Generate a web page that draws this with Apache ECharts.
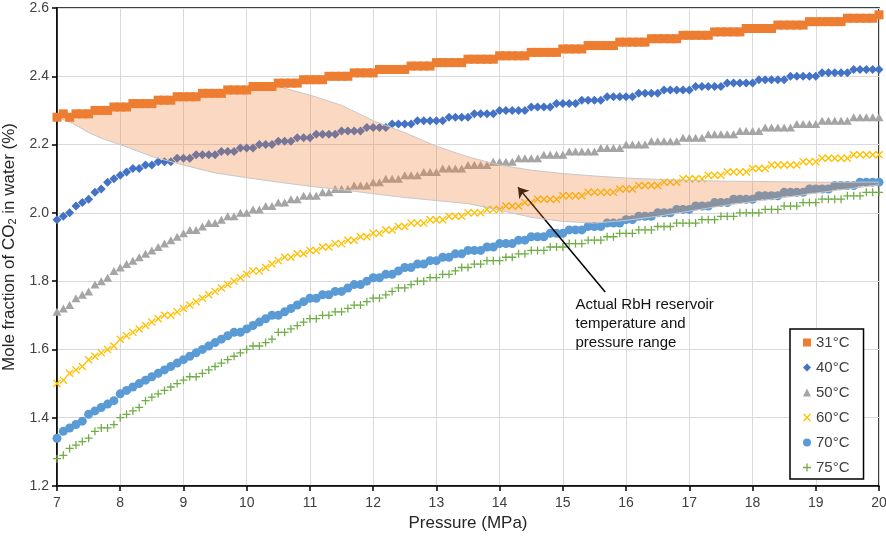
<!DOCTYPE html>
<html>
<head>
<meta charset="utf-8">
<script src="https://cdn.jsdelivr.net/npm/echarts@6/dist/echarts.min.js"></script>
<style>
html,body{margin:0;padding:0;background:#fff;}
#chart{width:886px;height:537px;}
</style>
</head>
<body>
<div id="chart"></div>
<script>
// Pressure (MPa)
const pressure = [
7.0,7.1,7.2,7.3,7.4,7.5,7.6,7.7,7.8,7.9,
8.0,8.1,8.2,8.3,8.4,8.5,8.6,8.7,8.8,8.9,
9.0,9.1,9.2,9.3,9.4,9.5,9.6,9.7,9.8,9.9,
10.0,10.1,10.2,10.3,10.4,10.5,10.6,10.7,10.8,10.9,
11.0,11.1,11.2,11.3,11.4,11.5,11.6,11.7,11.8,11.9,
12.0,12.1,12.2,12.3,12.4,12.5,12.6,12.7,12.8,12.9,
13.0,13.1,13.2,13.3,13.4,13.5,13.6,13.7,13.8,13.9,
14.0,14.1,14.2,14.3,14.4,14.5,14.6,14.7,14.8,14.9,
15.0,15.1,15.2,15.3,15.4,15.5,15.6,15.7,15.8,15.9,
16.0,16.1,16.2,16.3,16.4,16.5,16.6,16.7,16.8,16.9,
17.0,17.1,17.2,17.3,17.4,17.5,17.6,17.7,17.8,17.9,
18.0,18.1,18.2,18.3,18.4,18.5,18.6,18.7,18.8,18.9,
19.0,19.1,19.2,19.3,19.4,19.5,19.6,19.7,19.8,19.9,
20.0];

// Mole fraction of CO2 in water (%)
const t31 = [
2.28,2.29,2.28,2.29,2.29,2.29,2.30,2.30,2.30,2.31,
2.31,2.31,2.32,2.32,2.32,2.32,2.33,2.33,2.33,2.34,
2.34,2.34,2.34,2.35,2.35,2.35,2.35,2.36,2.36,2.36,
2.36,2.37,2.37,2.37,2.37,2.38,2.38,2.38,2.38,2.39,
2.39,2.39,2.39,2.40,2.40,2.40,2.40,2.41,2.41,2.41,
2.41,2.42,2.42,2.42,2.42,2.42,2.43,2.43,2.43,2.43,
2.44,2.44,2.44,2.44,2.44,2.45,2.45,2.45,2.45,2.45,
2.46,2.46,2.46,2.46,2.46,2.47,2.47,2.47,2.47,2.47,
2.48,2.48,2.48,2.48,2.49,2.49,2.49,2.49,2.49,2.50,
2.50,2.50,2.50,2.50,2.51,2.51,2.51,2.51,2.51,2.52,
2.52,2.52,2.52,2.52,2.53,2.53,2.53,2.53,2.53,2.54,
2.54,2.54,2.54,2.54,2.55,2.55,2.55,2.55,2.55,2.56,
2.56,2.56,2.56,2.56,2.56,2.57,2.57,2.57,2.57,2.57,
2.58];

const t40 = [
1.98,1.99,2.00,2.02,2.03,2.04,2.06,2.07,2.09,2.10,
2.11,2.12,2.13,2.13,2.14,2.14,2.15,2.15,2.15,2.16,
2.16,2.16,2.17,2.17,2.17,2.17,2.18,2.18,2.18,2.19,
2.19,2.19,2.20,2.20,2.20,2.21,2.21,2.21,2.22,2.22,
2.22,2.23,2.23,2.23,2.23,2.24,2.24,2.24,2.24,2.25,
2.25,2.25,2.25,2.26,2.26,2.26,2.26,2.27,2.27,2.27,
2.27,2.27,2.28,2.28,2.28,2.28,2.29,2.29,2.29,2.29,
2.30,2.30,2.30,2.30,2.30,2.31,2.31,2.31,2.31,2.32,
2.32,2.32,2.32,2.33,2.33,2.33,2.33,2.34,2.34,2.34,
2.34,2.34,2.35,2.35,2.35,2.35,2.36,2.36,2.36,2.36,
2.36,2.37,2.37,2.37,2.37,2.37,2.38,2.38,2.38,2.38,
2.38,2.39,2.39,2.39,2.39,2.39,2.40,2.40,2.40,2.40,
2.40,2.41,2.41,2.41,2.41,2.41,2.42,2.42,2.42,2.42,
2.42];

const t50 = [
1.71,1.72,1.73,1.75,1.76,1.77,1.79,1.80,1.81,1.83,
1.84,1.85,1.86,1.87,1.88,1.89,1.90,1.91,1.92,1.93,
1.94,1.95,1.95,1.96,1.97,1.97,1.98,1.99,1.99,2.00,
2.00,2.01,2.01,2.02,2.02,2.03,2.03,2.04,2.04,2.05,
2.05,2.05,2.06,2.06,2.07,2.07,2.07,2.08,2.08,2.08,
2.09,2.09,2.10,2.10,2.10,2.11,2.11,2.11,2.12,2.12,
2.12,2.13,2.13,2.13,2.13,2.14,2.14,2.14,2.14,2.15,
2.15,2.15,2.15,2.16,2.16,2.16,2.16,2.17,2.17,2.17,
2.17,2.18,2.18,2.18,2.18,2.18,2.19,2.19,2.19,2.19,
2.20,2.20,2.20,2.20,2.21,2.21,2.21,2.21,2.21,2.22,
2.22,2.22,2.22,2.23,2.23,2.23,2.23,2.23,2.24,2.24,
2.24,2.24,2.25,2.25,2.25,2.25,2.25,2.26,2.26,2.26,
2.26,2.27,2.27,2.27,2.27,2.27,2.28,2.28,2.28,2.28,
2.28];

const t60 = [
1.50,1.51,1.53,1.54,1.55,1.57,1.58,1.59,1.60,1.61,
1.63,1.64,1.65,1.66,1.67,1.68,1.69,1.70,1.70,1.71,
1.72,1.73,1.74,1.75,1.76,1.77,1.78,1.79,1.80,1.81,
1.82,1.83,1.83,1.84,1.85,1.86,1.87,1.87,1.88,1.88,
1.89,1.89,1.90,1.90,1.91,1.91,1.92,1.92,1.93,1.93,
1.94,1.94,1.95,1.95,1.96,1.96,1.97,1.97,1.97,1.98,
1.98,1.98,1.99,1.99,1.99,2.00,2.00,2.00,2.01,2.01,
2.01,2.02,2.02,2.02,2.03,2.03,2.04,2.04,2.04,2.04,
2.05,2.05,2.05,2.05,2.06,2.06,2.06,2.06,2.06,2.07,
2.07,2.07,2.08,2.08,2.08,2.08,2.09,2.09,2.09,2.10,
2.10,2.10,2.10,2.11,2.11,2.11,2.12,2.12,2.12,2.12,
2.13,2.13,2.13,2.14,2.14,2.14,2.14,2.14,2.15,2.15,
2.15,2.16,2.16,2.16,2.16,2.16,2.17,2.17,2.17,2.17,
2.17];

const t70 = [
1.34,1.36,1.37,1.38,1.39,1.41,1.42,1.43,1.44,1.45,
1.47,1.48,1.49,1.50,1.51,1.52,1.53,1.54,1.55,1.56,
1.57,1.58,1.59,1.60,1.61,1.62,1.63,1.64,1.65,1.65,
1.66,1.67,1.68,1.69,1.70,1.70,1.71,1.72,1.73,1.74,
1.75,1.75,1.76,1.76,1.77,1.77,1.78,1.79,1.79,1.80,
1.81,1.81,1.82,1.82,1.83,1.84,1.84,1.85,1.85,1.86,
1.86,1.87,1.87,1.88,1.88,1.89,1.89,1.89,1.90,1.90,
1.91,1.91,1.91,1.92,1.92,1.93,1.93,1.93,1.94,1.94,
1.94,1.95,1.95,1.95,1.96,1.96,1.96,1.97,1.97,1.97,
1.98,1.98,1.99,1.99,1.99,2.00,2.00,2.00,2.01,2.01,
2.01,2.02,2.02,2.02,2.03,2.03,2.03,2.04,2.04,2.04,
2.04,2.05,2.05,2.05,2.05,2.06,2.06,2.06,2.06,2.07,
2.07,2.07,2.07,2.08,2.08,2.08,2.08,2.09,2.09,2.09,
2.09];

const t75 = [
1.28,1.29,1.31,1.32,1.33,1.34,1.36,1.37,1.37,1.38,
1.40,1.41,1.42,1.43,1.45,1.46,1.47,1.48,1.49,1.50,
1.51,1.52,1.52,1.53,1.54,1.55,1.56,1.57,1.58,1.59,
1.60,1.61,1.61,1.62,1.63,1.65,1.65,1.66,1.67,1.68,
1.69,1.69,1.70,1.70,1.71,1.71,1.72,1.73,1.73,1.74,
1.75,1.75,1.76,1.77,1.78,1.78,1.79,1.80,1.80,1.81,
1.81,1.82,1.82,1.83,1.84,1.84,1.85,1.85,1.86,1.86,
1.86,1.87,1.87,1.88,1.88,1.89,1.89,1.89,1.90,1.90,
1.90,1.91,1.91,1.91,1.92,1.92,1.92,1.93,1.93,1.94,
1.94,1.94,1.95,1.95,1.95,1.96,1.96,1.96,1.97,1.97,
1.97,1.97,1.98,1.98,1.98,1.99,1.99,1.99,2.00,2.00,
2.00,2.00,2.01,2.01,2.01,2.02,2.02,2.02,2.03,2.03,
2.03,2.04,2.04,2.04,2.04,2.05,2.05,2.05,2.06,2.06,
2.06];

// Shaded "actual RbH reservoir" band
const bandX     = [7,7.25,7.5,7.75,8,8.5,9,9.5,10,10.5,11,11.5,12,12.5,13,13.5,14,14.5,15,15.5,16,16.5,17,17.5,18,18.5,19,19.5,20];
const bandUpper = [2.28,2.283,2.288,2.297,2.306,2.318,2.333,2.347,2.358,2.37,2.345,2.315,2.27,2.235,2.195,2.164,2.14,2.125,2.115,2.108,2.102,2.098,2.095,2.093,2.092,2.091,2.09,2.09,2.09];
const bandLower = [2.28,2.262,2.235,2.215,2.20,2.165,2.14,2.117,2.103,2.09,2.078,2.068,2.056,2.045,2.036,2.027,2.008,1.987,1.975,1.97,1.978,1.99,2.005,2.02,2.033,2.045,2.058,2.07,2.082];

// Annotation
const arrowFrom = [15.67, 1.768];
const arrowTo   = [14.29, 2.075];
const noteAt    = [15.2, 1.675];
const noteText  = 'Actual RbH reservoir\ntemperature and\npressure range';

const seriesNames = ['31°C','40°C','50°C','60°C','70°C','75°C'];
const yTicks = [1.2,1.4,1.6,1.8,2.0,2.2,2.4,2.6];
const xTicks = [7,8,9,10,11,12,13,14,15,16,17,18,19,20];

const colors = ['#ed7d31','#4472c4','#a5a5a5','#ffc000','#5b9bd5','#70ad47'];
const xPath = 'path://M0,1.2 L1.2,0 L5,3.8 L8.8,0 L10,1.2 L6.2,5 L10,8.8 L8.8,10 L5,6.2 L1.2,10 L0,8.8 L3.8,5 Z';
const plusPath = 'path://M4.2,0 H5.8 V4.2 H10 V5.8 H5.8 V10 H4.2 V5.8 H0 V4.2 H4.2 Z';
const symbols = ['rect','diamond','triangle',xPath,'circle',plusPath];
const symSizes = [[9,9],[9,9],[9,8],[8,8],[9,9],[8,8]];
const seriesZ = [6,2,2,2,2,2];
const allData = [t31,t40,t50,t60,t70,t75];

const FONT = '"Liberation Sans", Arial, Helvetica, sans-serif';

const chart = echarts.init(document.getElementById('chart'), null, {renderer:'canvas'});

const series = seriesNames.map((name, k) => ({
  name: name,
  type: 'scatter',
  symbol: symbols[k],
  symbolSize: symSizes[k],
  itemStyle: {color: colors[k], opacity: 1},
  z: seriesZ[k],
  data: pressure.map((p, i) => [p, allData[k][i]])
}));

series.push({
  name: 'band',
  type: 'custom',
  z: 5,
  silent: true,
  data: [[bandX[0], bandUpper[0]]],
  encode: {x: 0, y: 1},
  clip: true,
  renderItem: function (params, api) {
    const pts = [];
    for (let i = 0; i < bandX.length; i++) pts.push(api.coord([bandX[i], bandUpper[i]]));
    for (let i = bandX.length - 1; i >= 0; i--) pts.push(api.coord([bandX[i], bandLower[i]]));
    return {
      type: 'polygon',
      shape: {points: pts},
      style: {fill: 'rgba(237,125,49,0.3)', stroke: '#c8c8c8', lineWidth: 1}
    };
  }
});

series.push({
  name: 'annotation',
  type: 'scatter',
  data: [],
  z: 7,
  silent: true,
  markLine: {
    silent: true,
    symbol: ['none', 'arrow'],
    symbolSize: 10,
    lineStyle: {color: '#000', width: 1.5, type: 'solid'},
    label: {show: false},
    emphasis: {disabled: true},
    data: [[{coord: arrowFrom}, {coord: arrowTo}]]
  },
  markPoint: {
    silent: true,
    symbol: 'circle',
    symbolSize: 0,
    label: {
      show: true, position: 'right', distance: 0,
      formatter: noteText, color: '#111', fontSize: 15, lineHeight: 19,
      fontFamily: FONT, align: 'left'
    },
    data: [{coord: noteAt}]
  }
});

chart.setOption({
  animation: false,
  backgroundColor: '#fff',
  textStyle: {fontFamily: FONT},
  grid: {left: 57, right: 7, top: 8, bottom: 51, show: true, borderColor: '#000', borderWidth: 1.5,
         containLabel: false, outerBoundsMode: 'none'},
  legend: {
    orient: 'vertical',
    left: 790, top: 329,
    backgroundColor: '#fff',
    borderColor: '#000', borderWidth: 1.5, borderRadius: 0,
    padding: [6, 14, 4, 13],
    itemWidth: 8, itemHeight: 8, itemGap: 10,
    textStyle: {fontSize: 15, color: '#404040', fontFamily: FONT},
    data: seriesNames.map((n, k) => ({name: n, icon: symbols[k]}))
  },
  xAxis: {
    type: 'value', min: 7, max: 20, interval: 1,
    name: 'Pressure (MPa)', nameLocation: 'middle', nameGap: 28,
    nameTextStyle: {fontSize: 17, color: '#262626', fontFamily: FONT},
    axisLine: {show: true, lineStyle: {color: '#000', width: 1.5}},
    axisTick: {show: true, inside: false, length: 5, lineStyle: {color: '#000', width: 1.5}},
    axisLabel: {fontSize: 14, color: '#404040', margin: 10, fontFamily: FONT,
      formatter: v => xTicks.indexOf(v) >= 0 ? String(v) : ''},
    splitLine: {show: true, lineStyle: {color: '#d9d9d9', width: 1}}
  },
  yAxis: {
    type: 'value', min: 1.2, max: 2.6, interval: 0.2,
    name: 'Mole fraction of CO{sub|2} in water (%)', nameLocation: 'middle', nameGap: 39,
    nameTextStyle: {fontSize: 17, color: '#262626', fontFamily: FONT,
      rich: {sub: {fontSize: 11, color: '#262626', fontFamily: FONT, verticalAlign: 'bottom', padding: [6,0,0,0]}}},
    axisLine: {show: true, lineStyle: {color: '#000', width: 1.5}},
    axisTick: {show: true, inside: false, length: 5, lineStyle: {color: '#000', width: 1.5}},
    axisLabel: {fontSize: 14, color: '#404040', margin: 8, fontFamily: FONT,
      formatter: v => {
        const t = yTicks.find(y => Math.abs(y - v) < 1e-6);
        return t === undefined ? '' : t.toFixed(1);
      }},
    splitLine: {show: true, lineStyle: {color: '#d9d9d9', width: 1}}
  },
  series: series
});
</script>
</body>
</html>
